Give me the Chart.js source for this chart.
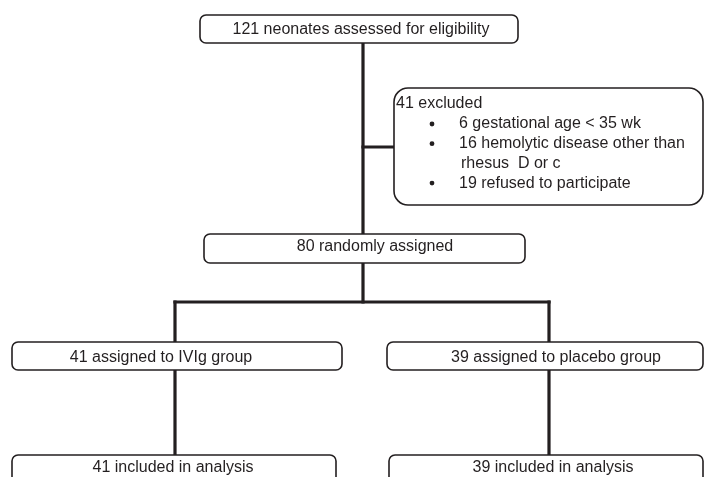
<!DOCTYPE html>
<html>
<head>
<meta charset="utf-8">
<script src="https://cdn.jsdelivr.net/npm/chart.js@4"></script>
<style>
html,body{margin:0;padding:0;background:#fff;}
canvas{display:block;}
</style>
</head>
<body>
<canvas id="c" width="705" height="477"></canvas>
<script>
// ---- data ----
const screenedCount = 121;
const excludedCount = 41;
const exclusionCounts = [6, 16, 19];
const exclusionReasons = ['gestational age < 35 wk', 'hemolytic disease other than|rhesus  D or c', 'refused to participate'];
const randomizedCount = 80;
const groupNames = ['IVIg', 'placebo'];
const assignedCounts = [41, 39];
const analyzedCounts = [41, 39];

// ---- layout (box geometry and label anchors, in page units) ----
const layout = {
  top:    {x0: 200, y0: 15,  x1: 518, y1: 43,  tx: 361, ty: 30},
  excl:   {x0: 394, y0: 88,  x1: 703, y1: 205},
  rand:   {x0: 204, y0: 234, x1: 525, y1: 263, tx: 375, ty: 247},
  grp:    [{x0: 12, y0: 342, x1: 342, y1: 370, tx: 161, ty: 358},
           {x0: 387, y0: 342, x1: 703, y1: 370, tx: 556, ty: 358}],
  ana:    [{x0: 12, y0: 455, x1: 336, y1: 495, tx: 173, ty: 468},
           {x0: 389, y0: 455, x1: 703, y1: 495, tx: 553, ty: 468}],
  trunkX: 363,
  branchY: 147,
  splitY: 302,
  armX: [175, 549]
};

const boxTexts = {
  top: screenedCount + ' neonates assessed for eligibility',
  rand: randomizedCount + ' randomly assigned',
  grp: groupNames.map((g, i) => assignedCounts[i] + ' assigned to ' + g + ' group'),
  ana: analyzedCounts.map(n => n + ' included in analysis')
};

const L = layout;
const segments = [
  [[L.trunkX, L.top.y1], [L.trunkX, L.rand.y0]],
  [[L.trunkX, L.branchY], [L.excl.x0, L.branchY]],
  [[L.trunkX, L.rand.y1], [L.trunkX, L.splitY]],
  [[L.armX[0], L.splitY], [L.armX[1], L.splitY]],
  [[L.armX[0], L.splitY], [L.armX[0], L.grp[0].y0]],
  [[L.armX[1], L.splitY], [L.armX[1], L.grp[1].y0]],
  [[L.armX[0], L.grp[0].y1], [L.armX[0], L.ana[0].y0]],
  [[L.armX[1], L.grp[1].y1], [L.armX[1], L.ana[1].y0]]
];

const INK = '#231f20';
const FONT = '16px "Liberation Sans", Arial, sans-serif';

function roundRect(ctx, x0, y0, x1, y1, r) {
  ctx.beginPath();
  ctx.moveTo(x0 + r, y0);
  ctx.lineTo(x1 - r, y0);
  ctx.arcTo(x1, y0, x1, y0 + r, r);
  ctx.lineTo(x1, y1 - r);
  ctx.arcTo(x1, y1, x1 - r, y1, r);
  ctx.lineTo(x0 + r, y1);
  ctx.arcTo(x0, y1, x0, y1 - r, r);
  ctx.lineTo(x0, y0 + r);
  ctx.arcTo(x0, y0, x0 + r, y0, r);
  ctx.closePath();
}

const boxPlugin = {
  id: 'boxes',
  afterDatasetsDraw(chart) {
    const ctx = chart.ctx;
    const xs = chart.scales.x, ys = chart.scales.y;
    const px = v => xs.getPixelForValue(v), py = v => ys.getPixelForValue(v);
    ctx.save();
    function box(b, r) {
      roundRect(ctx, px(b.x0), py(b.y0), px(b.x1), py(b.y1), r || 6);
      ctx.fillStyle = '#fff';
      ctx.fill();
      ctx.lineWidth = 1.6;
      ctx.strokeStyle = INK;
      ctx.stroke();
    }
    function centered(b, t) {
      ctx.fillStyle = INK;
      ctx.font = FONT;
      ctx.textAlign = 'center';
      ctx.textBaseline = 'middle';
      ctx.fillText(t, px(b.tx), py(b.ty));
    }
    box(L.top); centered(L.top, boxTexts.top);
    box(L.rand); centered(L.rand, boxTexts.rand);
    L.grp.forEach((b, i) => { box(b); centered(b, boxTexts.grp[i]); });
    L.ana.forEach((b, i) => { box(b); centered(b, boxTexts.ana[i]); });

    // exclusion box
    box(L.excl, 14);
    ctx.fillStyle = INK;
    ctx.font = FONT;
    ctx.textAlign = 'left';
    ctx.textBaseline = 'middle';
    ctx.fillText(excludedCount + ' excluded', px(L.excl.x0 + 2), py(104));
    let y = 124;
    exclusionReasons.forEach((r, i) => {
      const parts = r.split('|');
      ctx.beginPath();
      ctx.arc(px(432), py(y), 2.4, 0, Math.PI * 2);
      ctx.fill();
      parts.forEach((p, j) => {
        const t = j === 0 ? exclusionCounts[i] + ' ' + p : p;
        ctx.fillText(t, px(j === 0 ? 459 : 461), py(y));
        y += 19.7;
      });
    });
    ctx.restore();
  }
};

new Chart(document.getElementById('c'), {
  type: 'scatter',
  data: {
    datasets: segments.map(s => ({
      data: s.map(p => ({x: p[0], y: p[1]})),
      showLine: true,
      borderColor: INK,
      borderWidth: 3.2,
      borderCapStyle: 'square',
      pointRadius: 0,
      pointHoverRadius: 0,
      fill: false
    }))
  },
  options: {
    responsive: false,
    animation: false,
    devicePixelRatio: 1,
    layout: {padding: 0},
    plugins: {legend: {display: false}, tooltip: {enabled: false}},
    events: [],
    scales: {
      x: {type: 'linear', min: 0, max: 705, display: false},
      y: {type: 'linear', min: 0, max: 477, reverse: true, display: false}
    }
  },
  plugins: [boxPlugin]
});
</script>
</body>
</html>
